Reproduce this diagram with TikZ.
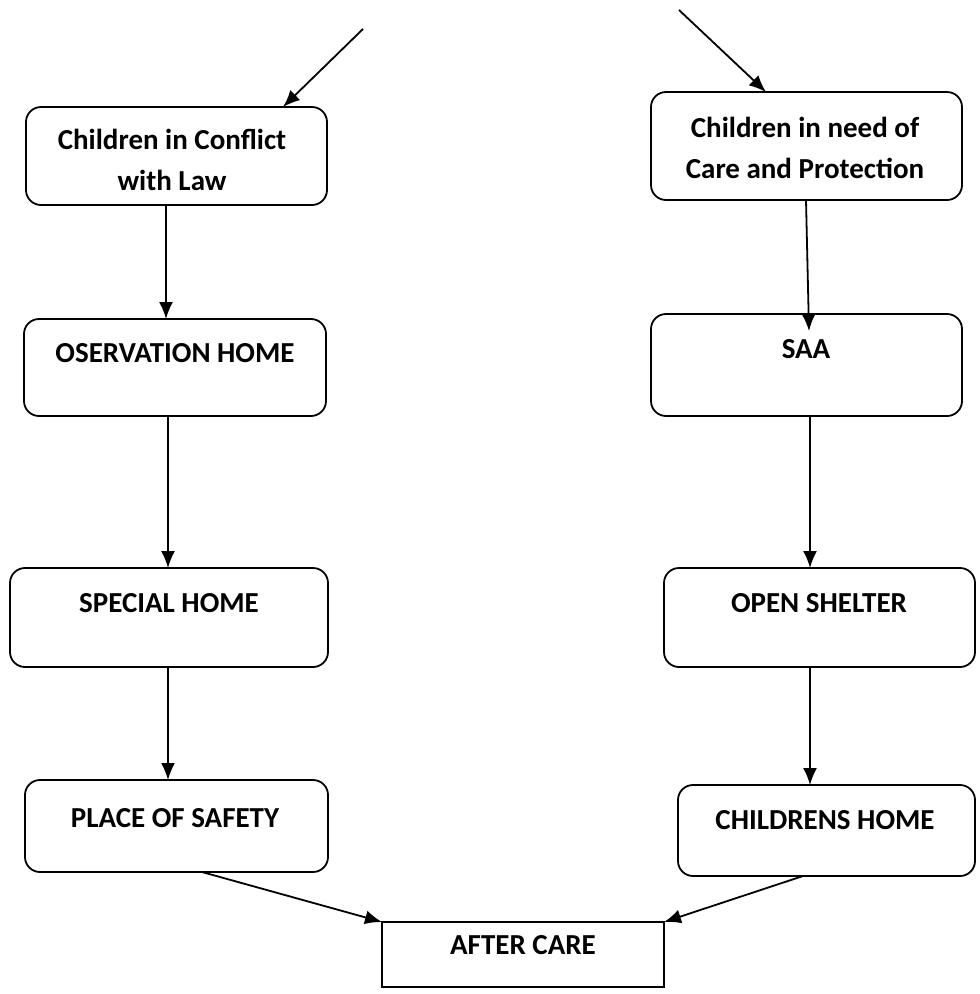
\documentclass[tikz,border=0pt]{standalone}
\usepackage{fontspec}
\setmainfont{Carlito}
\usetikzlibrary{arrows.meta}
\begin{document}
\begin{tikzpicture}[x=1pt,y=-1pt,
  every node/.style={inner sep=0pt,outer sep=0pt},
  rbox/.style={draw,line width=1.8pt,rounded corners=15pt},
  sbox/.style={draw,line width=1.8pt},
  lbl/.style={font=\fontsize{29}{41}\selectfont\bfseries,align=center,anchor=base},
  conn/.style={line width=1.8pt,-{Latex[length=17pt,width=14pt]}}]
\useasboundingbox (0,0) rectangle (980,994);
% boxes
\node[rbox,minimum width=301pt,minimum height=98pt] (b1) at (176.5,156) {};
\node[rbox,minimum width=311pt,minimum height=108pt] (b2) at (806.5,146) {};
\node[rbox,minimum width=302pt,minimum height=97pt] (b3) at (175,367.5) {};
\node[rbox,minimum width=311pt,minimum height=102pt] (b4) at (806.5,365) {};
\node[rbox,minimum width=318pt,minimum height=99pt] (b5) at (169,617.5) {};
\node[rbox,minimum width=311pt,minimum height=99pt] (b6) at (819.5,617.5) {};
\node[rbox,minimum width=303pt,minimum height=92pt] (b7) at (176.5,826) {};
\node[rbox,minimum width=297pt,minimum height=91pt] (b8) at (826.5,830.5) {};
\node[sbox,minimum width=282pt,minimum height=65pt] (b9) at (523,954.5) {};
% texts (base anchor = last line)
\node[lbl] (t1) at (172,190) {Children in Conflict\\with Law};
\node[lbl] (t2) at (805,178) {Children in need of\\Care and Protection};
\node[lbl] (t3) at (175,362) {OSERVATION HOME};
\node[lbl] (t4) at (806,358) {SAA};
\node[lbl] (t5) at (169,612) {SPECIAL HOME};
\node[lbl] (t6) at (819,612) {OPEN SHELTER};
\node[lbl] (t7) at (175,827) {PLACE OF SAFETY};
\node[lbl] (t8) at (825,829) {CHILDRENS HOME};
\node[lbl] (t9) at (523,954) {AFTER CARE};
% free ends
\coordinate (s1) at (363,29);
\coordinate (s2) at (679,10);
% connectors
\draw[conn] (s1) -- (b1.north -| 283,0);
\draw[conn] (s2) -- (b2.north -| 766,0);
\draw[conn] (b1.south -| 166,0) -- (b3.north -| 166,0);
\draw[conn] (b3.south -| 168,0) -- (b5.north -| 168,0);
\draw[conn] (b5.south -| 168,0) -- (b7.north -| 168,0);
\draw[conn] (b2.south -| 806,0) -- (809,331);
\draw[conn] (b4.south -| 810,0) -- (b6.north -| 810,0);
\draw[conn] (b6.south -| 810,0) -- (b8.north -| 810,0);
\draw[conn] (b7.south -| 202,0) -- (b9.north west);
\draw[conn] (b8.south -| 803,0) -- (b9.north east);
\end{tikzpicture}
\end{document}
